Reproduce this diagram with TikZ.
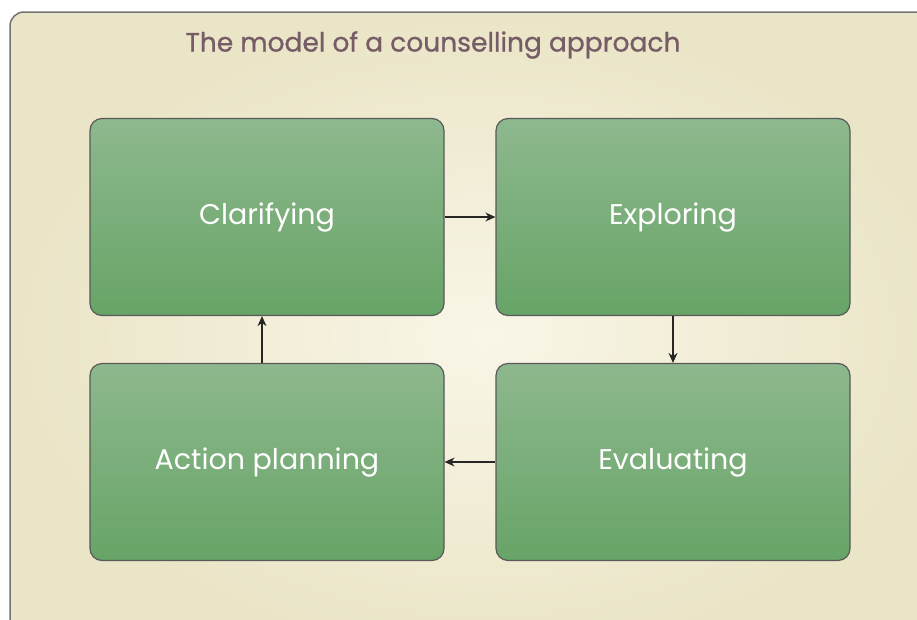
\documentclass[tikz,border=0pt]{standalone}
\usepackage{fontspec}
\setmainfont{Poppins}
\usepackage{tikz}
\usetikzlibrary{arrows.meta,shapes,positioning}
\usepackage{xcolor}
\definecolor{cbpanel}{RGB}{234,229,198}
\definecolor{cbpanelin}{RGB}{249,246,232}
\definecolor{cbtop}{RGB}{142,184,142}
\definecolor{cbbot}{RGB}{103,164,103}
\definecolor{cbtitle}{RGB}{117,92,102}
\tikzstyle{stage} = [draw=black!65, line width=1.2pt, rounded corners=12pt,
  top color=cbtop, bottom color=cbbot, minimum width=354pt, minimum height=197pt,
  text=white, font=\fontsize{28.5}{32}\selectfont]
\tikzstyle{arrow} = [line width=1.3pt,-{Stealth[length=10pt,width=9pt]},color=black!85]

\begin{document}
\begin{tikzpicture}[x=1pt, y=-1pt]
\useasboundingbox (0,0) rectangle (917,619);
% Panel
\draw[line width=1.5pt, draw=black!55, rounded corners=14pt, inner color=cbpanelin, outer color=cbpanel]
  (10,12) rectangle (960,660);
\node[text=cbtitle, font=\fontsize{26.5}{30}\selectfont\addfontfeature{FakeBold=0.8}] (title) at (433,45) {The model of a counselling approach};

% Stages
\node[stage] (clar) at (267,217) {Clarifying};
\node[stage] (expl) at (673,217) {Exploring};
\node[stage] (eval) at (673,462) {Evaluating};
\node[stage] (act) at (267,462) {Action planning};

% Arrows
\draw[arrow] (clar) -- (expl);
\draw[arrow] (expl) -- (eval);
\draw[arrow] (eval) -- (act);
\draw[arrow] (act.north-|262,0) -- (clar.south-|262,0);
\end{tikzpicture}
\end{document}
